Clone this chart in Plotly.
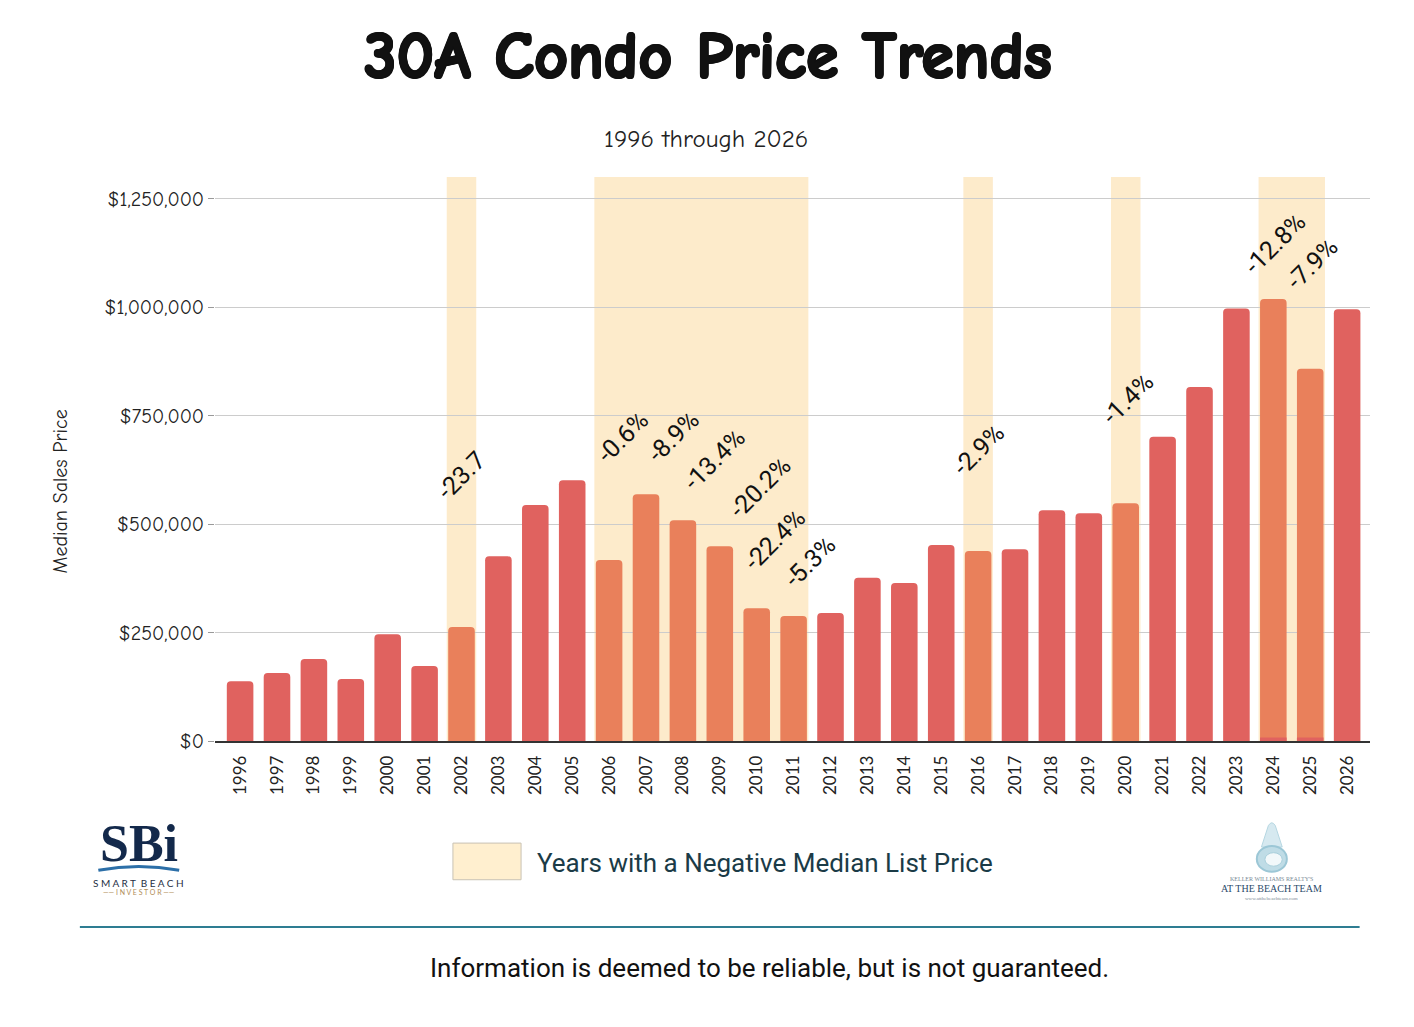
import plotly.graph_objects as go

# ---- data ----
years = list(range(1996, 2027))
median_price = [138000, 157000, 189000, 143000, 246000, 173000, 263000, 426000,
                544000, 601000, 417000, 569000, 509000, 449000, 306000, 288000,
                295000, 376000, 364000, 452000, 438000, 442000, 532000, 525000,
                548000, 701000, 816000, 997000, 1019000, 858000, 995000]
negative_years = [2002, 2006, 2007, 2008, 2009, 2010, 2011, 2016, 2020, 2024, 2025]
# thin red base strip visible under the 2024 / 2025 bars
base_years = [2024, 2025]
base_values = [8000, 8000]

label_text = ["-23.7", "-0.6%", "-8.9%", "-13.4%", "-20.2%", "-22.4%", "-5.3%",
              "-2.9%", "-1.4%", "-12.8%", "-7.9%"]
label_x = [2002.0, 2006.39, 2007.74, 2008.85, 2010.09, 2010.5, 2011.45,
           2016.03, 2020.07, 2024.05, 2025.06]
label_y = [611000, 701000, 703000, 650000, 585000, 464000, 414000,
           671000, 789000, 1147000, 1101000]

tick_vals = [0, 250000, 500000, 750000, 1000000, 1250000]
tick_text = ["$0", "$250,000", "$500,000", "$750,000", "$1,000,000", "$1,250,000"]

RED = "#E0625F"
ORANGE = "#E9805B"
BAND = "#FDEBCB"

bar_colors = [ORANGE if y in negative_years else RED for y in years]

fig = go.Figure()
fig.add_trace(go.Bar(
    x=years, y=median_price, marker=dict(color=bar_colors, line_width=0),
    width=0.72, showlegend=False, hoverinfo="x+y",
))
fig.add_trace(go.Bar(
    x=base_years, y=base_values, marker=dict(color=RED, line_width=0, cornerradius=0),
    width=0.72, showlegend=False, hoverinfo="skip",
))

# shaded bands behind runs of negative years
runs = []
for yr in negative_years:
    if runs and yr == runs[-1][1] + 1:
        runs[-1][1] = yr
    else:
        runs.append([yr, yr])
for start, end in runs:
    fig.add_shape(type="rect", xref="x", yref="paper", x0=start - 0.4, x1=end + 0.4,
                  y0=0, y1=1, fillcolor=BAND, line_width=0, layer="below")

for t, x, y in zip(label_text, label_x, label_y):
    fig.add_annotation(x=x, y=y, text=t, showarrow=False, textangle=-45,
                       xanchor="center", yanchor="middle",
                       font=dict(family="Roboto", size=25, color="#111111"))


def note(x, y, text, size, color, family, angle=0, xanchor="center", shadow=None):
    font = dict(family=family, size=size, color=color)
    if shadow:
        font["shadow"] = shadow
    fig.add_annotation(xref="paper", yref="paper", x=x, y=y, text=text,
                       showarrow=False, textangle=angle, xanchor=xanchor,
                       yanchor="middle", font=font)


title_font = "Comic Sans MS, Comic Neue, Lato"
# fake a heavier weight for the title with a tight text shadow
heavy = ("1px 0 0 #111111, -1px 0 0 #111111, 0 1px 0 #111111, 0 -1px 0 #111111, "
         "1px 1px 0 #111111, -1px -1px 0 #111111, 1px -1px 0 #111111, -1px 1px 0 #111111")
note(0.427, 1.213, "<b>30A Condo Price Trends</b>", 66, "#111111", title_font, shadow=heavy)
note(0.425, 1.069, "1996 through 2026", 25, "#222222", title_font)
note(-0.134, 0.443, "Median Sales Price", 20, "#222222", title_font, angle=-90)

# legend box + text
fig.add_shape(type="rect", xref="paper", yref="paper", x0=0.206, x1=0.265,
              y0=-0.246, y1=-0.181, fillcolor="#FFEFCF", line=dict(color="#C9C2B4", width=1))
note(0.277, -0.216, "Years with a Negative Median List Price", 26, "#1B3B47", "Roboto",
     xanchor="left")

# divider + footer
fig.add_shape(type="line", xref="paper", yref="paper", x0=-0.117, x1=0.991,
              y0=-0.330, y1=-0.330, line=dict(color="#2E7D92", width=2))
note(0.4805, -0.402, "Information is deemed to be reliable, but is not guaranteed.",
     26, "#111111", "Roboto")

# SBi logo (text approximation)
note(-0.066, -0.182, "<b>SBi</b>", 52, "#13294B", "Liberation Serif")
fig.add_shape(type="path", xref="paper", yref="paper",
              path="M -0.101 -0.229 Q -0.066 -0.216 -0.031 -0.229",
              line=dict(color="#2C6FA8", width=3))
note(-0.066, -0.252, "S M A R T  B E A C H", 10, "#1F2F45", "Lato")
note(-0.066, -0.268, "—— I N V E S T O R ——", 7, "#B08D57", "Lato")

# At The Beach Team logo (shell + text approximation)
fig.add_shape(type="path", xref="paper", yref="paper",
              path="M 0.906 -0.188 L 0.912 -0.150 Q 0.915 -0.140 0.918 -0.150 L 0.924 -0.188 Z",
              fillcolor="#D6E9F0", line=dict(color="#B6D7E2", width=1))
fig.add_shape(type="circle", xref="paper", yref="paper", x0=0.902, x1=0.928,
              y0=-0.232, y1=-0.186, fillcolor="#BFDCE6", line=dict(color="#9CC7D6", width=2))
fig.add_shape(type="circle", xref="paper", yref="paper", x0=0.909, x1=0.924,
              y0=-0.222, y1=-0.198, fillcolor="#F2F8FA", line=dict(color="#A9CFDB", width=1))
note(0.915, -0.244, "KELLER WILLIAMS REALTY'S", 6, "#7A8A96", "Liberation Serif")
note(0.915, -0.262, "AT THE BEACH TEAM", 10, "#2B4A6A", "Liberation Serif")
note(0.915, -0.279, "www.atthebeachteam.com", 5, "#7A8A96", "Liberation Serif")

fig.update_layout(
    width=1398, height=1011,
    margin=dict(l=207, r=36, t=169, b=278),
    paper_bgcolor="white", plot_bgcolor="white",
    barmode="overlay", barcornerradius=4,
    showlegend=False,
    xaxis=dict(range=[1995.32, 2026.62], tickmode="array", tickvals=years,
               ticktext=[str(y) for y in years], tickangle=-90,
               tickfont=dict(family="Lato", size=17, color="#222222"),
               ticklabelstandoff=6,
               showgrid=False, showline=True, linecolor="#333333", linewidth=1.5,
               ticks="", zeroline=False),
    yaxis=dict(range=[0, 1300000], tickmode="array", tickvals=tick_vals,
               ticktext=tick_text, tickfont=dict(family=title_font, size=20, color="#222222"),
               showgrid=True, gridcolor="#CCCCCC", gridwidth=1, zeroline=False,
               ticks="outside", ticklen=6, tickcolor="#999999", showline=False),
)

fig.write_html("out.html")
